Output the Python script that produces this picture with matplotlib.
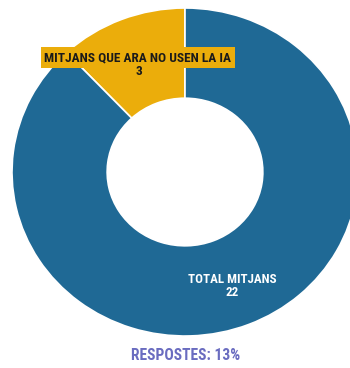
import matplotlib
matplotlib.use("Agg")
import matplotlib.pyplot as plt
from matplotlib import font_manager

# datos del donut
categorias = ["MITJANS QUE ARA NO USEN LA IA", "TOTAL MITJANS"]
valores = [3, 22]
colores = ["#ebad0b", "#1f6995"]
respostes = 13

# fuente estrecha si existe, si no Roboto normal algo mas pequena
disponibles = {f.name for f in font_manager.fontManager.ttflist}
if "Roboto Condensed" in disponibles:
    FUENTE, ESCALA = "Roboto Condensed", 1.0
elif "Liberation Sans Narrow" in disponibles:
    FUENTE, ESCALA = "Liberation Sans Narrow", 1.0
else:
    FUENTE, ESCALA = "Roboto", 0.82

fig = plt.figure(figsize=(3.5, 3.68), dpi=100)
ax = fig.add_axes([0, 0, 1, 1])

ax.pie(
    valores,
    colors=colores,
    startangle=90,
    counterclock=True,
    radius=1.0,
    wedgeprops={"width": 0.55, "edgecolor": "white", "linewidth": 1.2},
)
ax.set_aspect("auto")
ax.set_xlim(-185 / 173, 165 / 173)
ax.set_ylim(-196 / 164, 172 / 164)
ax.axis("off")


def px(x, y):
    # pixel de la figura -> coordenadas del donut
    return (x - 185) / 173, (172 - y) / 164


x, y = px(138, 61)
ax.text(x, y, categorias[0], ha="center", va="baseline", family=FUENTE,
        fontweight="bold", fontsize=9.6 * ESCALA, color="#1a1a1a",
        bbox={"boxstyle": "square,pad=0.28", "fc": colores[0], "ec": "none"})
x, y = px(139, 75)
ax.text(x, y, str(valores[0]), ha="center", va="baseline", family=FUENTE,
        fontweight="bold", fontsize=9.6 * ESCALA, color="#1a1a1a")

x, y = px(232, 283)
ax.text(x, y, categorias[1], ha="center", va="baseline", family=FUENTE,
        fontweight="bold", fontsize=9.4 * ESCALA, color="white")
x, y = px(232, 296)
ax.text(x, y, str(valores[1]), ha="center", va="baseline", family=FUENTE,
        fontweight="bold", fontsize=9.4 * ESCALA, color="white")

x, y = px(186, 360)
ax.text(x, y, f"RESPOSTES: {respostes}%", ha="center", va="baseline",
        family=FUENTE, fontweight="bold", fontsize=11.2 * ESCALA,
        color="#6a6cc0")

fig.savefig("out.png", dpi=100)
